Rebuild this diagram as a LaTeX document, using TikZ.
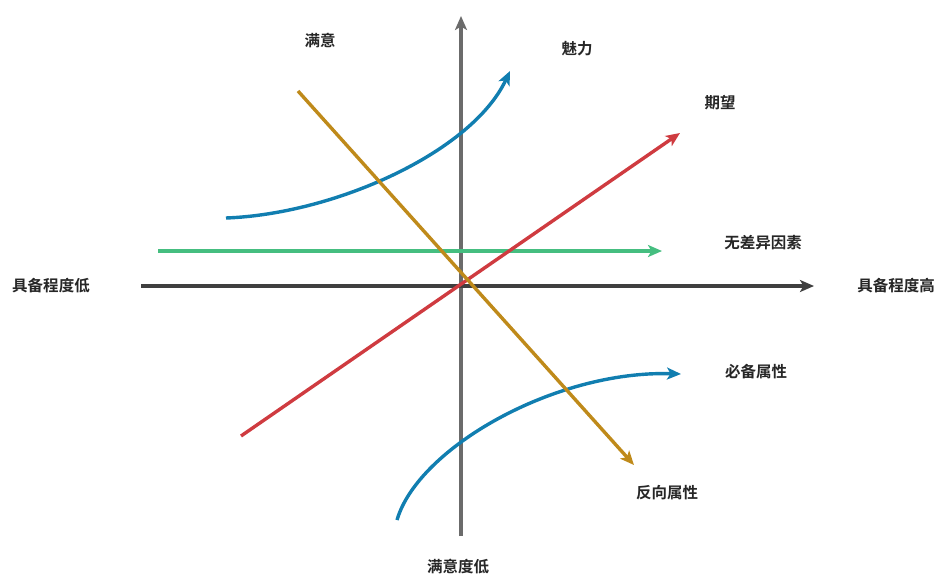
\documentclass[tikz,border=0pt]{standalone}
\usepackage{fontspec}
\newfontfamily\cjk{Noto Sans CJK SC}[BoldFont={Noto Sans CJK SC Bold}]
\usetikzlibrary{arrows.meta}
\definecolor{axisv}{HTML}{6B6B6B}
\definecolor{axish}{HTML}{3F3F3F}
\definecolor{cgreen}{HTML}{45BE80}
\definecolor{cred}{HTML}{CF3B40}
\definecolor{cgold}{HTML}{BF8A1A}
\definecolor{cblue}{HTML}{117EB0}
\tikzset{
  lbl/.style={font=\cjk\bfseries\fontsize{15.5}{18}\selectfont, text=black!85, inner sep=0pt},
  ln/.style={line width=3.4pt, -{Stealth[length=14pt,width=12pt,inset=3.5pt]}},
}
\begin{document}
\begin{tikzpicture}[x=1pt,y=-1pt]
\useasboundingbox (0,0) rectangle (949,584);
% coordinates
\coordinate (vb) at (461,536);
\coordinate (vt) at (461,16);
\coordinate (hl) at (141,286);
\coordinate (hr) at (814,286);
\coordinate (gs) at (158,251);
\coordinate (ge) at (662,251);
\coordinate (rs) at (241,436);
\coordinate (re) at (680,133);
\coordinate (os) at (298,91);
\coordinate (oe) at (634,465);
\coordinate (bts) at (226,218);
\coordinate (bte) at (510,71);
\coordinate (bbs) at (397,520);
\coordinate (bbe) at (681,374);
% axes
\draw[ln, draw=axisv] (vb) -- (vt);
\draw[ln, draw=axish] (hl) -- (hr);
% lines
\draw[ln, draw=cgreen] (gs) -- (ge);
\draw[ln, draw=cred] (rs) -- (re);
\draw[ln, draw=cblue] (bts) .. controls (335,214) and (472,152) .. (bte);
\draw[ln, draw=cblue] (bbs) .. controls (418,448) and (555,370) .. (bbe);
\draw[ln, draw=cgold] (os) -- (oe);
% labels
\node[lbl] (l1) at (320,40) {满意};
\node[lbl] (l2) at (577,49) {魅力};
\node[lbl] (l3) at (720,103) {期望};
\node[lbl] (l4) at (763,243) {无差异因素};
\node[lbl] (l5) at (51,286) {具备程度低};
\node[lbl] (l6) at (896,286) {具备程度高};
\node[lbl] (l7) at (756,372) {必备属性};
\node[lbl] (l8) at (667,493) {反向属性};
\node[lbl] (l9) at (458,567) {满意度低};
\end{tikzpicture}
\end{document}
